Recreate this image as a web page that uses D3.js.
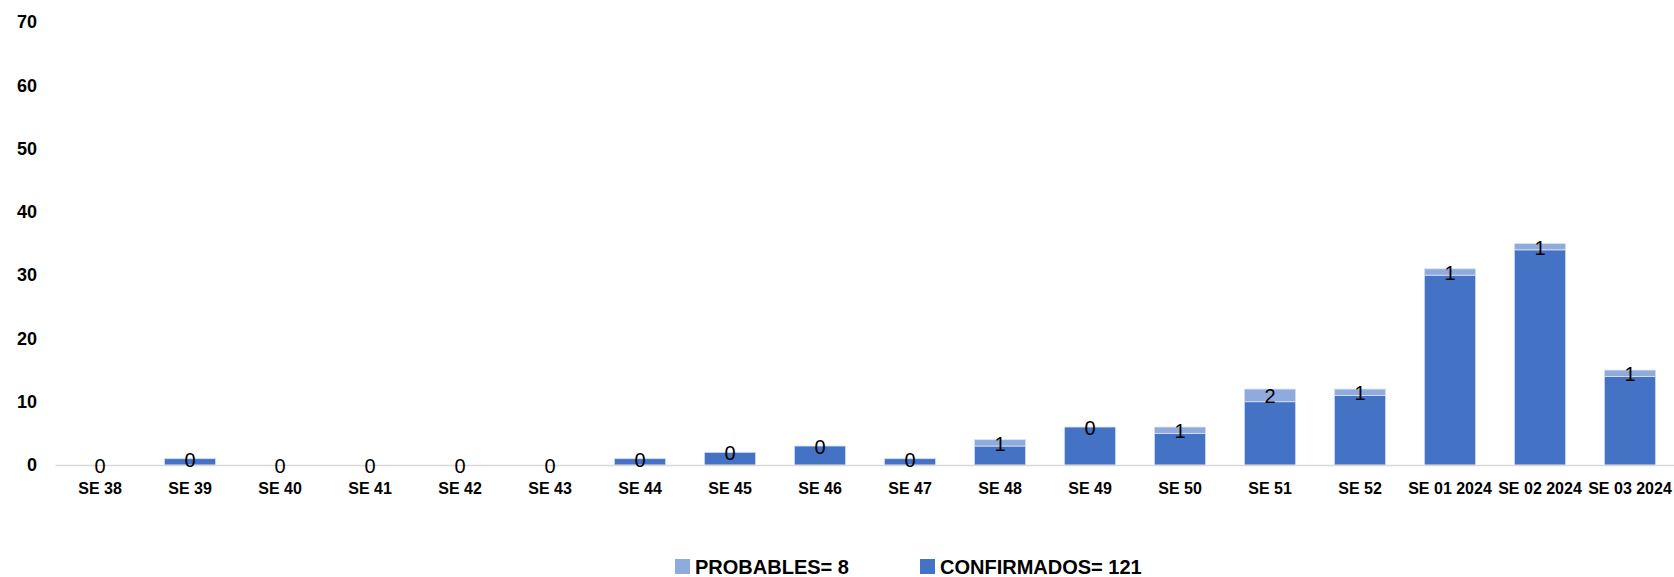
<!DOCTYPE html>
<html>
<head>
    <meta charset="utf-8">
    <script type="text/javascript" src="https://cdn.jsdelivr.net/npm/d3@7/dist/d3.min.js" charset="utf-8"></script>
    <style>
        body { margin: 0; background: #fff; }
        svg text { font-family: "Liberation Sans", Arial, sans-serif; }
    </style>
</head>
<body>
    <div id="viz"></div>
    <script type="text/javascript">
    //Data
    var weeks = ["SE 38", "SE 39", "SE 40", "SE 41", "SE 42", "SE 43", "SE 44", "SE 45", "SE 46",
                 "SE 47", "SE 48", "SE 49", "SE 50", "SE 51", "SE 52", "SE 01 2024", "SE 02 2024", "SE 03 2024"];
    var confirmados = [0, 1, 0, 0, 0, 0, 1, 2, 3, 1, 3, 6, 5, 10, 11, 30, 34, 14];
    var probables   = [0, 0, 0, 0, 0, 0, 0, 0, 0, 0, 1, 0, 1, 2, 1, 1, 1, 1];
    var yTicks = [0, 10, 20, 30, 40, 50, 60, 70];
    var legendLabels = ["PROBABLES= 8", "CONFIRMADOS= 121"];

    //Size
    var width = 1674;
    var height = 577;
    var colConf = "#4472C4";
    var colProb = "#8FAADC";

    var svg = d3.select("#viz")
        .append("svg")
        .attr("width", width)
        .attr("height", height);

    //Scales
    var x = d3.scaleBand()
        .domain(weeks)
        .range([55, 1675])
        .paddingInner(0.43)
        .paddingOuter(0.215);

    var y = d3.scaleLinear()
        .domain([0, 70])
        .range([465, 22]);

    //Y axis (labels only)
    var yAxis = svg.append("g")
        .attr("transform", "translate(37,0)")
        .call(d3.axisLeft(y).tickValues(yTicks).tickSize(0).tickPadding(0));
    yAxis.select(".domain").remove();
    yAxis.selectAll("text")
        .attr("font-size", 18)
        .attr("font-weight", "bold")
        .attr("fill", "#000")
        .style("font-family", "'Liberation Sans', Arial, sans-serif");

    //Stacked bars
    var rows = weeks.map(function(w, i) {
        return { week: w, conf: confirmados[i], prob: probables[i] };
    });

    var bars = svg.append("g");
    bars.selectAll("rect.conf")
        .data(rows)
        .enter()
        .append("rect")
        .attr("class", "conf")
        .attr("x", function(d) { return x(d.week) })
        .attr("width", x.bandwidth())
        .attr("y", function(d) { return y(d.conf) })
        .attr("height", function(d) { return y(0) - y(d.conf) })
        .attr("fill", colConf)
        .attr("stroke", "#d9e2f3")
        .attr("stroke-width", function(d) { return d.conf > 0 ? 0.8 : 0 });

    bars.selectAll("rect.prob")
        .data(rows)
        .enter()
        .append("rect")
        .attr("class", "prob")
        .attr("x", function(d) { return x(d.week) })
        .attr("width", x.bandwidth())
        .attr("y", function(d) { return y(d.conf + d.prob) })
        .attr("height", function(d) { return y(d.conf) - y(d.conf + d.prob) })
        .attr("fill", colProb)
        .attr("stroke", "#d9e2f3")
        .attr("stroke-width", function(d) { return d.prob > 0 ? 0.8 : 0 });

    //X axis
    var xAxis = svg.append("g")
        .attr("transform", "translate(0," + y(0) + ")")
        .call(d3.axisBottom(x).tickSize(0).tickPadding(18));
    xAxis.select(".domain")
        .attr("stroke", "#d9d9d9")
        .attr("stroke-width", 1.5);
    xAxis.selectAll("text")
        .attr("font-size", 16)
        .attr("font-weight", "bold")
        .attr("fill", "#000")
        .style("font-family", "'Liberation Sans', Arial, sans-serif");

    //Data labels (probables, centered on their segment)
    svg.append("g").selectAll("text")
        .data(rows)
        .enter()
        .append("text")
        .attr("x", function(d) { return x(d.week) + x.bandwidth() / 2 })
        .attr("y", function(d) { return (y(d.conf) + y(d.conf + d.prob)) / 2 + 1 })
        .attr("text-anchor", "middle")
        .attr("dominant-baseline", "central")
        .attr("font-size", 20)
        .attr("fill", "#000")
        .text(function(d) { return d.prob });

    //Legend
    var legendX = [675, 920];
    var legendCol = [colProb, colConf];
    var legend = svg.append("g");
    legendLabels.forEach(function(t, i) {
        legend.append("rect")
            .attr("x", legendX[i])
            .attr("y", 559)
            .attr("width", 15)
            .attr("height", 15)
            .attr("fill", legendCol[i]);
        legend.append("text")
            .attr("x", legendX[i] + 20)
            .attr("y", 574)
            .attr("font-size", 20)
            .attr("font-weight", "bold")
            .attr("fill", "#000")
            .text(t);
    });
    </script>
</body>
</html>
